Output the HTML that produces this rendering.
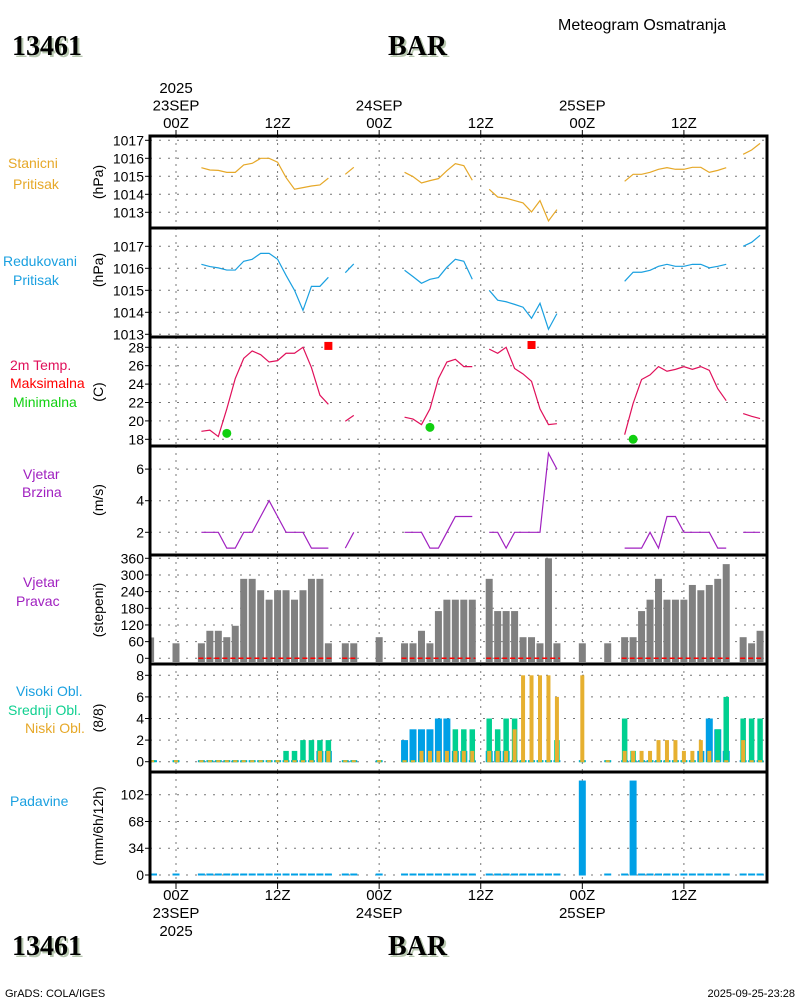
<!DOCTYPE html>
<html><head><meta charset="utf-8"><style>
html,body{margin:0;padding:0;background:#fff}
svg{display:block}
text{font-family:"Liberation Sans",sans-serif}
.serif{font-family:"Liberation Serif",serif !important;font-weight:bold}
</style></head><body>
<svg id="chart" width="800" height="1000" viewBox="0 0 800 1000" xmlns="http://www.w3.org/2000/svg">
<g>
<text class="serif" x="14" y="57" style="font-family:'Liberation Serif',serif" font-size="28" fill="#b8c8b0">13461</text>
<text class="serif" x="12" y="55" style="font-family:'Liberation Serif',serif" font-size="28" fill="#000">13461</text>
<text class="serif" x="390" y="57" style="font-family:'Liberation Serif',serif" font-size="28" fill="#b8c8b0">BAR</text>
<text class="serif" x="388" y="55" style="font-family:'Liberation Serif',serif" font-size="28" fill="#000">BAR</text>
<text x="558" y="30" font-size="16" fill="#000">Meteogram Osmatranja</text>
</g>
<g>
<text class="serif" x="14" y="957" style="font-family:'Liberation Serif',serif" font-size="28" fill="#b8c8b0">13461</text>
<text class="serif" x="12" y="955" style="font-family:'Liberation Serif',serif" font-size="28" fill="#000">13461</text>
<text class="serif" x="390" y="957" style="font-family:'Liberation Serif',serif" font-size="28" fill="#b8c8b0">BAR</text>
<text class="serif" x="388" y="955" style="font-family:'Liberation Serif',serif" font-size="28" fill="#000">BAR</text>
<text x="5" y="997" font-size="11" fill="#000">GrADS: COLA/IGES</text>
<text x="795" y="997" font-size="11" fill="#000" text-anchor="end">2025-09-25-23:28</text>
</g>
</svg>
<script>
// ---- data (hourly observations, hours relative to 23SEP 00Z) ----
const hours = [-3,0,3,4,5,6,7,8,9,10,11,12,13,14,15,16,17,18,20,21,24,27,28,29,30,31,32,33,34,35,37,38,39,40,41,42,43,44,45,48,51,53,54,55,56,57,58,59,60,61,62,63,64,65,67,68,69];
const stationPressure = [null,null,1015.48,1015.35,1015.33,1015.22,1015.22,1015.63,1015.72,1016,1016,1015.78,1014.93,1014.28,1014.37,1014.46,1014.52,1014.9,1015.11,1015.5,null,1015.22,1014.98,1014.63,1014.76,1014.87,1015.31,1015.7,1015.59,1014.78,1014.28,1013.85,1013.78,1013.65,1013.52,1013.02,1013.65,1012.52,1013.15,null,null,1014.72,1015.11,1015.11,1015.22,1015.39,1015.48,1015.39,1015.39,1015.5,1015.5,1015.22,1015.33,1015.48,1016.22,1016.46,1016.83];
const reducedPressure = [null,null,1016.18,1016.08,1016.02,1015.92,1015.92,1016.32,1016.41,1016.68,1016.68,1016.41,1015.68,1015,1014.09,1015.18,1015.18,1015.59,1015.8,1016.2,null,1015.91,1015.62,1015.32,1015.5,1015.58,1016.05,1016.41,1016.32,1015.5,1015,1014.55,1014.48,1014.36,1014.23,1013.73,1014.41,1013.23,1013.94,null,null,1015.41,1015.82,1015.82,1015.91,1016.09,1016.18,1016.09,1016.09,1016.18,1016.18,1016.02,1016.09,1016.18,1017,1017.18,1017.5];
const temperature = [null,null,18.87,19.0,18.3,21.3,24.6,26.8,27.6,27.2,26.4,26.55,27.35,27.35,28,25.8,22.8,21.8,19.96,20.6,null,20.4,20.2,19.6,21.3,24.6,26.4,26.7,25.9,25.9,27.8,27.35,28,25.7,25.1,24.3,21.3,19.6,19.7,null,null,18.5,21.9,24.5,25,25.9,25.4,25.6,25.9,25.6,25.9,25.5,23.5,22.2,20.8,20.5,20.25];
const maxTempHours = [18,42];
const maxTempValues = [28.15,28.25];
const minTempHours = [6,30,54];
const minTempValues = [18.65,19.3,18.0];
const windSpeed = [null,null,2,2,2,1,1,2,2,3,4,3,2,2,2,1,1,1,1,2,null,2,2,2,1,1,2,3,3,3,2,2,1,2,2,2,2,7,6,null,null,1,1,1,2,1,3,3,2,2,2,2,1,1,2,2,2];
const windDir = [75,54,54,99,99,76,117,286,286,245,211,245,245,211,245,286,286,54,54,54,76,54,54,99,54,170,211,211,211,211,286,170,170,170,76,76,54,360,54,54,54,76,76,170,211,286,211,211,211,264,245,264,286,339,76,54,99];
const cloudHigh = [0,0,0,0,0,0,0,0,0,0,0,0,0,0,0,0,1,1,0,0,0,2,3,3,3,4,4,1,1,0,1,1,1,0,0,0,0,0,0,0,0,0,0,0,0,0,0,0,0,0,1,4,3,1,0,0,0];
const cloudMid = [0,0,0,0,0,0,0,0,0,0,0,0,1,1,2,2,2,2,0,0,0,0,0,0,0,0,0,3,3,3,4,3,4,4,0,0,0,0,2,0,0,4,1,0,0,0,0,0,0,0,0,0,3,6,4,4,4];
const cloudLow = [0,0,0,0,0,0,0,0,0,0,0,0,0,0,0,0,1,1,0,0,0,0,0,1,1,1,1,1,1,1,1,1,1,3,8,8,8,8,6,8,0,1,1,1,1,2,2,2,1,1,2,1,0,0,2,0,0];
const precipValues = [0,0,0,0,0,0,0,0,0,0,0,0,0,0,0,0,0,0,0,0,0,0,0,0,0,0,0,0,0,0,0,0,0,0,0,0,0,0,0,120,0,0,120,0,0,0,0,0,0,0,0,0,0,0,0,0,0];
const timeTicks = [0,12,24,36,48,60];
const timeTopLabels = [["2025","23SEP","00Z"],["12Z"],["24SEP","00Z"],["12Z"],["25SEP","00Z"],["12Z"]];
const timeBottomLabels = [["00Z","23SEP","2025"],["12Z"],["00Z","24SEP"],["12Z"],["00Z","25SEP"],["12Z"]];
const pTicks = [1013,1014,1015,1016,1017];
const tTicks = [18,20,22,24,26,28];
const wTicks = [2,4,6];
const dTicks = [0,60,120,180,240,300,360];
const cTicks = [0,2,4,6,8];
const rTicks = [0,34,68,102];

// ---- layout ----
const NS = "http://www.w3.org/2000/svg";
const svg = document.getElementById('chart');
const X0 = 150, X1 = 767;
const x = h => 176 + h * 8.465;
const panels = [
 {name:'station-pressure', top:136, bot:228, y:v=>158.3-(v-1016)*18, ticks:pTicks, unit:'(hPa)', uy:182, labels:[['Stanicni',8,168,'#e6a828'],['Pritisak',13,189,'#e6a828']]},
 {name:'reduced-pressure', top:228, bot:337, y:v=>268.3-(v-1016)*22, ticks:pTicks, unit:'(hPa)', uy:270, labels:[['Redukovani',3,266,'#1aa0e0'],['Pritisak',13,285,'#1aa0e0']]},
 {name:'temperature', top:337, bot:446, y:v=>347.3-(v-28)*9.2, ticks:tTicks, unit:'(C)', uy:392, labels:[['2m Temp.',10,370,'#e0105a'],['Maksimalna',10,388,'#ff0000'],['Minimalna',13,407,'#10d010']]},
 {name:'wind-speed', top:446, bot:555, y:v=>532.3-(v-2)*15.8, ticks:wTicks, unit:'(m/s)', uy:500, labels:[['Vjetar',23,479,'#a020c0'],['Brzina',22,497,'#a020c0']]},
 {name:'wind-direction', top:555, bot:664, y:v=>658.3-v*0.2778, ticks:dTicks, unit:'(stepeni)', uy:610, labels:[['Vjetar',23,587,'#a020c0'],['Pravac',16,606,'#a020c0']]},
 {name:'clouds', top:664, bot:772, y:v=>761.7-v*10.8, ticks:cTicks, unit:'(8/8)', uy:718, labels:[['Visoki Obl.',16,696,'#1aa0e0'],['Srednji Obl.',8,715,'#10d090'],['Niski Obl.',25,733,'#e6a828']]},
 {name:'precipitation', top:772, bot:882, y:v=>875-v*0.787, ticks:rTicks, unit:'(mm/6h/12h)', uy:826, labels:[['Padavine',10,806,'#1aa0e0']]}
];
function el(tag, attrs, parent){
  const e = document.createElementNS(NS, tag);
  for (const k in attrs) e.setAttribute(k, attrs[k]);
  (parent||svg).appendChild(e);
  return e;
}
function txt(s, attrs, parent){ const t = el('text', attrs, parent); t.textContent = s; return t; }

panels.forEach(p => {
  const g = el('g', {});
  
  
  p.g = g;
  timeTicks.forEach(h => {
    const l = el('line', {x1:x(h), x2:x(h), y1:p.top, y2:p.bot, stroke:'#777', 'stroke-width':1, 'stroke-dasharray':'2,5'}, g);
    
    
  });
  p.ticks.forEach(v => {
    const yy = p.y(v);
    const l = el('line', {x1:X0, x2:X1, y1:yy, y2:yy, stroke:'#777', 'stroke-width':1, 'stroke-dasharray':'2,7'}, g);
    
    
    el('line', {x1:X0-5, x2:X0, y1:yy, y2:yy, stroke:'#000', 'stroke-width':1}, g);
    const t = txt(String(v), {x:X0-6, y:yy+5, 'font-size':14, 'text-anchor':'end', fill:'#000'}, g);
    
    
  });
  const u = txt(p.unit, {x:0, y:0, 'font-size':14, 'text-anchor':'middle', fill:'#000', transform:`translate(103,${p.uy}) rotate(-90)`}, g);
  
  
  p.labels.forEach(lb => {
    const t = txt(lb[0], {x:lb[1], y:lb[2], 'font-size':14, fill:lb[3]}, g);
    
    
  });
});

function line(p, vals, color, name){
  let seg = [];
  const flush = () => {
    if (seg.length > 1) {
      const pl = el('polyline', {points: seg.map(s=>s.join(',')).join(' '), fill:'none', stroke:color, 'stroke-width':1.2}, p.g);
      
      
    }
    seg = [];
  };
  hours.forEach((h,i) => {
    const v = vals[i];
    if (v === null) { flush(); return; }
    if (seg.length && h - hours[i-1] !== 1) flush();
    seg.push([x(h), p.y(v)]);
  });
  flush();
}
line(panels[0], stationPressure, '#e6a828', 'station-pressure-line');
line(panels[1], reducedPressure, '#1aa0e0', 'reduced-pressure-line');
line(panels[2], temperature, '#e0105a', 'temperature-line');
line(panels[3], windSpeed, '#a020c0', 'wind-speed-line');

maxTempHours.forEach((h,i) => {
  const r = el('rect', {x:x(h)-4, y:panels[2].y(maxTempValues[i])-4, width:8, height:8, fill:'#ff0000'}, panels[2].g);
  
  
});
minTempHours.forEach((h,i) => {
  const c = el('circle', {cx:x(h), cy:panels[2].y(minTempValues[i]), r:4.5, fill:'#10d010'}, panels[2].g);
  
  
});

const pd = panels[4];
hours.forEach((h,i) => {
  const yy = pd.y(windDir[i]);
  const r = el('rect', {x:Math.max(X0, x(h)-3.5), y:yy, width:Math.min(7, x(h)+3.5-X0), height:662-yy, fill:'#808080'}, pd.g);
  
  
});
{
  let start = null;
  hours.forEach((h,i) => {
    const ok = windSpeed[i] !== null;
    const contNext = i+1 < hours.length && windSpeed[i+1] !== null && hours[i+1]-h === 1;
    if (ok && start === null) start = h;
    if (ok && !contNext) {
      const l = el('line', {x1:x(start)-3, x2:x(h)+3, y1:658.3, y2:658.3, stroke:'#ff0000', 'stroke-width':1.5, 'stroke-dasharray':'5,3'}, pd.g);
      
      
      start = null;
    }
  });
}

const pc = panels[5];
function cbar(h, v, w, color, name){
  const base = pc.y(0);
  const top = v > 0 ? pc.y(v) : base - 1.5;
  const r = el('rect', {x:Math.max(X0, x(h)-w/2), y:top, width:w, height:base+0.5-top, fill:color}, pc.g);
  
  
}
hours.forEach((h,i) => {
  cbar(h, cloudHigh[i], 7, '#00a0e6', 'high-cloud-bar');
  cbar(h, cloudMid[i], 5.5, '#00d090', 'mid-cloud-bar');
  cbar(h, cloudLow[i], 4, '#e6b030', 'low-cloud-bar');
});

const pr = panels[6];
hours.forEach((h,i) => {
  const v = precipValues[i];
  const base = pr.y(0);
  const top = v > 0 ? pr.y(v) : base - 1.5;
  const r = el('rect', {x:Math.max(X0, x(h)-3.5), y:top, width:7, height:base+0.5-top, fill:'#00a0e6'}, pr.g);
  
  
});

panels.forEach(p => {
  const r = el('rect', {x:X0, y:p.top, width:X1-X0, height:p.bot-p.top, fill:'none', stroke:'#000', 'stroke-width':3});
  
  
});

timeTicks.forEach((h,i) => {
  el('line', {x1:x(h), x2:x(h), y1:130, y2:136, stroke:'#000', 'stroke-width':1});
  el('line', {x1:x(h), x2:x(h), y1:882, y2:889, stroke:'#000', 'stroke-width':1});
  const top = timeTopLabels[i];
  top.forEach((s,k) => {
    const t = txt(s, {x:x(h), y:128 - (top.length-1-k)*17.5, 'font-size':15, 'text-anchor':'middle', fill:'#000'});
    
    
  });
  timeBottomLabels[i].forEach((s,k) => {
    const t = txt(s, {x:x(h), y:900 + k*18, 'font-size':15, 'text-anchor':'middle', fill:'#000'});
    
    
  });
});
</script>
</body></html>
